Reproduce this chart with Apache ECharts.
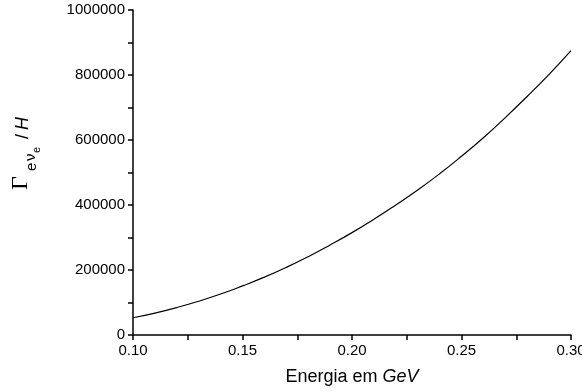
<!DOCTYPE html>
<html>
<head>
<meta charset="utf-8">
<script src="https://cdn.jsdelivr.net/npm/echarts@6/dist/echarts.min.js"></script>
<style>html,body{margin:0;padding:0;background:#fff;}#c{width:582px;height:391px;}</style>
</head>
<body>
<div id="c"></div>
<script>
var energy = [0.10,0.11,0.12,0.13,0.14,0.15,0.16,0.17,0.18,0.19,0.20,0.21,0.22,0.23,0.24,0.25,0.26,0.27,0.28,0.29,0.30];
var ratio = [53000,67500,84500,104000,126000,151000,178000,208000,241000,277000,315000,356000,400000,446000,496000,550000,607000,669000,734000,802000,875000];
var xTicks = [0.10,0.15,0.20,0.25,0.30];
var yTicks = [0,200000,400000,600000,800000,1000000];

var chart = echarts.init(document.getElementById('c'), null, {renderer:'canvas'});
var font = 'Liberation Sans, Arial, sans-serif';
chart.setOption({
  animation:false,
  backgroundColor:'#fff',
  grid:{left:133,right:11,top:10,bottom:56,containLabel:false,outerBoundsMode:'none'},
  xAxis:{
    type:'value',min:0.1,max:0.3,interval:0.05,
    name:'Energia em {i|GeV}',nameLocation:'middle',nameGap:33,
    nameTextStyle:{fontFamily:font,fontSize:18,color:'#000',rich:{i:{fontFamily:font,fontSize:18,fontStyle:'italic',color:'#000'}}},
    axisLine:{show:true,onZero:false,lineStyle:{color:'#000',width:1.5}},
    axisTick:{show:true,inside:false,length:5,lineStyle:{color:'#000',width:1.5}},
    minorTick:{show:true,splitNumber:2,length:5,lineStyle:{color:'#000',width:1.5}},
    splitLine:{show:false},
    axisLabel:{fontFamily:font,fontSize:15,color:'#000',margin:8,hideOverlap:false,formatter:function(v){return v.toFixed(2);}}
  },
  yAxis:{
    type:'value',min:0,max:1000000,interval:200000,
    axisLine:{show:true,lineStyle:{color:'#000',width:1.5}},
    axisTick:{show:true,inside:false,length:5,lineStyle:{color:'#000',width:1.5}},
    minorTick:{show:true,splitNumber:2,length:5,lineStyle:{color:'#000',width:1.5}},
    splitLine:{show:false},
    axisLabel:{fontFamily:font,fontSize:15,color:'#000',margin:8,formatter:function(v){return String(v);}}
  },
  graphic:[{
    type:'group',x:33,y:190,rotation:Math.PI/2,
    children:[
      {type:'text',x:0,y:0,style:{text:'\u0393',font:'24px "Liberation Serif", "Times New Roman", serif',fill:'#000',textVerticalAlign:'bottom',textAlign:'left'}},
      {type:'text',x:19,y:6,style:{text:'e',font:'15px "Liberation Sans", Arial, sans-serif',fill:'#000',textVerticalAlign:'bottom',textAlign:'left'}},
      {type:'text',x:29,y:5,style:{text:'\u03bd',font:'15px "Liberation Sans", Arial, sans-serif',fill:'#000',textVerticalAlign:'bottom',textAlign:'left'}},
      {type:'text',x:37,y:9,style:{text:'e',font:'11px "Liberation Sans", Arial, sans-serif',fill:'#000',textVerticalAlign:'bottom',textAlign:'left'}},
      {type:'text',x:51,y:-1,style:{text:'/',font:'18px "Liberation Sans", Arial, sans-serif',fill:'#000',textVerticalAlign:'bottom',textAlign:'left'}},
      {type:'text',x:60,y:-1,style:{text:'H',font:'italic 18px "Liberation Sans", Arial, sans-serif',fill:'#000',textVerticalAlign:'bottom',textAlign:'left'}}
    ]
  }],
  series:[{
    type:'line',
    data:energy.map(function(e,i){return [e,ratio[i]];}),
    smooth:true,showSymbol:false,symbol:'none',
    lineStyle:{color:'#000',width:1.2}
  }]
});
</script>
</body>
</html>
